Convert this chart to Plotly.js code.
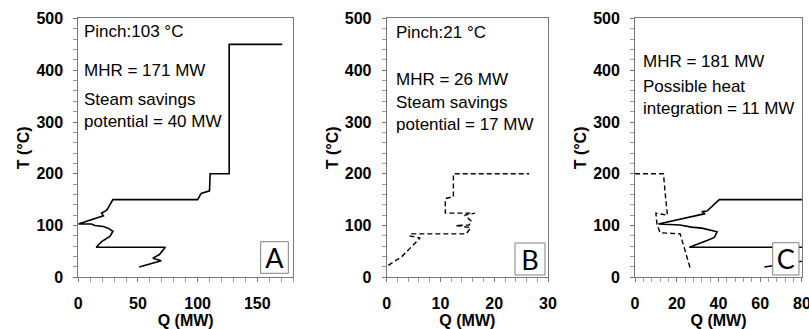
<!DOCTYPE html>
<html>
<head>
<meta charset="utf-8">
<script src="https://cdn.plot.ly/plotly-3.0.1.min.js"></script>
<style>html,body{margin:0;padding:0;background:#fff;}#chart{width:809px;height:329px;}</style>
</head>
<body>
<div id="chart"></div>
<script>
// Panel A (solid)
const qA = [51, 69.5, 62.5, 68, 73, 15, 19.5, 26.5, 29, 25, 21, 14, 11, 0, 21, 19.5, 22, 24, 29, 100, 103, 110, 110.5, 126.5, 126.5, 171];
const tA = [20, 32, 37, 44, 58, 58, 69, 79, 89, 95, 98, 100, 103, 103, 119, 124, 127, 130, 150, 150, 162, 167, 200, 200, 450, 450];
// Panel B (dashed)
const qB = [0.3, 2.8, 6.2, 4.2, 4.6, 14.8, 15.6, 12.8, 15.3, 15.8, 14.5, 16.4, 10.9, 10.9, 12.4, 12.4, 26.5];
const tB = [23, 40, 76, 80, 84, 84, 96, 100, 101, 108, 120, 124, 124, 152, 156, 200, 200];
// Panel C (solid)
const qC1 = [62, 95, 120, 26, 34.5, 38, 39.3, 32, 27, 21.6, 11.2, 33.6, 32, 34.5, 40.4, 181];
const tC1 = [20, 40, 58, 58, 71, 77, 88, 95, 97, 101, 103, 123, 127, 128, 150, 150];
// Panel C (dashed)
const qC2 = [0, 13.6, 14.5, 15.5, 10, 10.5, 12, 21.6, 26.4];
const tC2 = [200, 200, 160, 120, 124, 103, 86, 84, 18];

const panelLetters = ['A', 'B', 'C'];
const textA = ['Pinch:103 °C', 'MHR = 171 MW', 'Steam savings<br>potential = 40 MW'];
const textB = ['Pinch:21 °C', 'MHR = 26 MW', 'Steam savings<br>potential = 17 MW'];
const textC = ['MHR = 181 MW', 'Possible heat<br>integration = 11 MW'];

const dashStyle = '5px,3px';
const traces = [
  {x: qA, y: tA, xaxis: 'x', yaxis: 'y', mode: 'lines', line: {color: '#000', width: 1.6}},
  {x: qB, y: tB, xaxis: 'x2', yaxis: 'y2', mode: 'lines', line: {color: '#000', width: 1.4, dash: dashStyle}},
  {x: qC1, y: tC1, xaxis: 'x3', yaxis: 'y3', mode: 'lines', line: {color: '#000', width: 1.6}},
  {x: qC2, y: tC2, xaxis: 'x3', yaxis: 'y3', mode: 'lines', line: {color: '#000', width: 1.4, dash: dashStyle}}
];

const tickFont = {family: 'Liberation Sans, Arial, sans-serif', size: 16, color: '#000', weight: 'bold'};
const titleFont = {family: 'Liberation Sans, Arial, sans-serif', size: 16, color: '#000', weight: 'bold'};

function xax(domain, range, dtick, mdtick, anchor) {
  return {
    domain: domain, range: range, anchor: anchor, dtick: dtick, tick0: 0,
    showline: true, mirror: true, linecolor: '#777', linewidth: 1,
    showgrid: false, zeroline: false,
    ticks: 'outside', ticklen: 4, tickcolor: '#777', tickwidth: 1,
    minor: {dtick: mdtick, ticks: 'outside', ticklen: 4, tickcolor: '#999', showgrid: false},
    tickfont: tickFont, ticklabelstandoff: 7, ticklabeloverflow: 'allow',
    title: {text: 'Q (MW)', font: titleFont, standoff: 2}
  };
}
function yax(anchor) {
  return {
    domain: [0.1571, 0.9438], range: [0, 500], anchor: anchor, dtick: 100, tick0: 0,
    showline: true, mirror: true, linecolor: '#777', linewidth: 1,
    showgrid: false, zeroline: false,
    ticks: 'outside', ticklen: 4, tickcolor: '#777', tickwidth: 1,
    minor: {dtick: 20, ticks: 'outside', ticklen: 4, tickcolor: '#999', showgrid: false},
    tickfont: tickFont, ticklabelstandoff: 7, ticklabeloverflow: 'allow',
    title: {text: 'T (°C)', font: titleFont, standoff: 2}
  };
}

const annFont = {family: 'Liberation Sans, Arial, sans-serif', size: 17, color: '#000'};
function ann(xref, yref, x, y, text) {
  return {xref: xref, yref: yref, x: x, y: y, text: text, showarrow: false,
          xanchor: 'left', yanchor: 'middle', align: 'left', font: annFont, borderpad: 0};
}
const annotations = [
  ann('x', 'y', 4.0, 474, textA[0]),
  ann('x', 'y', 4.0, 399, textA[1]),
  ann('x', 'y', 4.0, 323, textA[2]),
  ann('x2', 'y2', 1.5, 472, textB[0]),
  ann('x2', 'y2', 1.5, 383, textB[1]),
  ann('x2', 'y2', 1.5, 317, textB[2]),
  ann('x3', 'y3', 3.3, 416, textC[0]),
  ann('x3', 'y3', 3.3, 347, textC[1])
];

function box(x0, x1, y0, y1, letter) {
  return {type: 'rect', xref: 'paper', yref: 'paper', x0: x0, x1: x1, y0: y0, y1: y1,
          fillcolor: '#fff', line: {color: '#808080', width: 1}, layer: 'above',
          label: {text: letter, font: {family: 'Lato, Open Sans, sans-serif', size: 27, color: '#000'},
                  textposition: 'middle center'}};
}
const shapes = [
  box(0.3222, 0.3564, 0.1693, 0.2653, panelLetters[0]),
  box(0.6366, 0.6737, 0.1641, 0.2614, panelLetters[1]),
  box(0.9551, 0.9876, 0.1641, 0.2623, panelLetters[2])
];

const layout = {
  width: 809, height: 329,
  margin: {l: 0, r: 0, t: 0, b: 0},
  paper_bgcolor: '#fff', plot_bgcolor: '#fff',
  showlegend: false,
  xaxis: xax([0.0968, 0.3622], [0, 180], 50, 10, 'y'),
  yaxis: yax('x'),
  xaxis2: xax([0.478, 0.6774], [0, 30], 10, 2, 'y2'),
  yaxis2: yax('x2'),
  xaxis3: xax([0.785, 0.9913], [0, 80], 20, 4, 'y3'),
  yaxis3: yax('x3'),
  annotations: annotations,
  shapes: shapes
};

Plotly.newPlot('chart', traces, layout, {displayModeBar: false, staticPlot: true});
</script>
</body>
</html>
